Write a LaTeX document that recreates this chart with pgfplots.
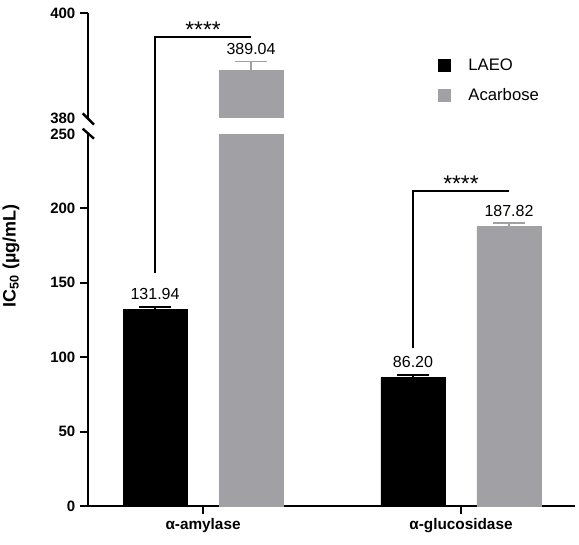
\documentclass[border=0pt]{standalone}
\usepackage{pgfplots}
\pgfplotsset{compat=1.18}
\usepackage{fontspec}
\setmainfont{Liberation Sans}
\definecolor{acgray}{RGB}{160,160,165}
\begin{document}
\begin{tikzpicture}
\useasboundingbox (0,0) rectangle (434.25pt,408pt);
\pgfplotsset{
  common/.style={
    scale only axis, width=365.25pt,
    xmin=-0.446, xmax=1.442,
    ybar=24pt, bar width=48pt,
    axis line style={line width=1.6pt},
    major tick style={line width=1.6pt, black},
    major tick length=6pt, tick align=outside,
    yticklabel style={font=\fontsize{11.25}{13}\selectfont\bfseries},
    /pgf/number format/assume math mode=true,
  },
  ebar/.style={/pgfplots/error bars/y dir=plus, /pgfplots/error bars/y explicit,
    /pgfplots/error bars/error bar style={line width=1.2pt, draw=#1},
    /pgfplots/error bars/error mark options={rotate=90, mark size=12pt, line width=1.2pt, draw=#1}},
}
% ---------------- lower segment 0-250 ----------------
\begin{axis}[common, at={(66pt,28.5pt)}, anchor=south west, height=279pt,
  ymin=0, ymax=250,
  axis x line*=bottom, axis y line*=left,
  xtick={0,1}, xticklabels={α-amylase,α-glucosidase},
  xticklabel style={font=\fontsize{11.5}{13}\selectfont\bfseries},
  ytick={0,50,100,150,200}, extra y ticks={250},
  extra y tick style={major tick style={draw=none}},
  ylabel={IC\textsubscript{50} (µg/mL)},
  every axis y label/.style={at={(rel axis cs:-0.158,0.672)}, rotate=90, anchor=center, font=\fontsize{13.5}{15}\selectfont\bfseries},
  legend style={draw=none, fill=none, at={(rel axis cs:0.718,1.203)}, anchor=north west,
    inner sep=0pt, font=\fontsize{12.5}{15}\selectfont, row sep=12pt,
    nodes={inner sep=0pt},
    /tikz/every odd column/.append style={column sep=13.5pt}},
  legend cell align=left,
  legend image code/.code={\fill[#1] (0pt,-4.5pt) rectangle (9pt,4.5pt);},
  nodes near coords, point meta=explicit symbolic,
  every node near coord/.append style={font=\fontsize{12}{14}\selectfont, text=black, inner sep=0pt, yshift=7.5pt},
]
\addplot[fill=black, draw=black, ebar=black] table[x=x, y=y, y error=e, meta=lab] {
x y e lab
0 131.94 1.6 131.94
1 86.20 1.7 86.20
};
\addlegendentry{LAEO}
\addplot[fill=acgray, draw=acgray, ebar=acgray] table[x=x, y=y, y error=e, meta=lab] {
x y e lab
0 389.04 1.7 {}
1 187.82 2.5 187.82
};
\addlegendentry{Acarbose}
\coordinate (a1) at ([xshift=-36pt]axis cs:0,156.5);
\coordinate (g1) at ([xshift=-36pt]axis cs:1,106);
\coordinate (g2) at ([xshift=36pt]axis cs:1,211.4);
\coordinate (lbrk) at (rel axis cs:0,1);
\draw[line width=1.5pt] (g1) |- (g2);
\node[anchor=base, inner sep=0pt, font=\fontsize{17}{20}\selectfont] at (axis cs:1,211.4) {****};
\end{axis}
% ---------------- upper segment 380-400 ----------------
\begin{axis}[common, at={(66pt,319.5pt)}, anchor=south west, height=78.75pt,
  ymin=380, ymax=400,
  axis y line*=left, axis x line=none,
  xtick=\empty, ytick={400}, extra y ticks={380},
  extra y tick style={major tick style={draw=none}},
]
\addplot[fill=none, draw=none] table[x=x, y=y] {
x y
0 131.94
1 86.20
};
\addplot[fill=acgray, draw=acgray, nodes near coords, point meta=explicit symbolic,
  every node near coord/.append style={font=\fontsize{12}{14}\selectfont, text=black, inner sep=0pt, yshift=12pt}, ebar=acgray]
  table[x=x, y=y, y error=e, meta=lab] {
x y e lab
0 389.04 1.7 389.04
};
\coordinate (a2) at ([xshift=36pt]axis cs:0,395.4);
\coordinate (ubrk) at (rel axis cs:0,0);
\node[anchor=base, inner sep=0pt, font=\fontsize{17}{20}\selectfont] at (axis cs:0,395.4) {****};
\end{axis}
\draw[line width=1.5pt] (a1) |- (a2);
\draw[line width=1.8pt] ([shift={(-4pt,4pt)}]lbrk) -- ++(8.5pt,-7.5pt);
\draw[line width=1.8pt] ([shift={(-4pt,3.5pt)}]ubrk) -- ++(8.5pt,-8.5pt);
\end{tikzpicture}
\end{document}
